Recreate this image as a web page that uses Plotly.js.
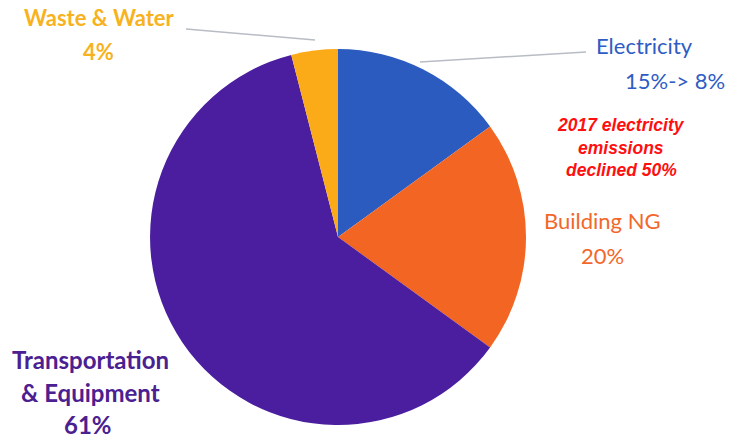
<!DOCTYPE html>
<html>
<head>
<meta charset="utf-8">
<script src="https://cdn.plot.ly/plotly-3.0.1.min.js"></script>
<style>html,body{margin:0;padding:0;background:#fff;}#chart{width:742px;height:439px;}</style>
</head>
<body>
<div id="chart"></div>
<script>
var categories = ["Electricity", "Building NG", "Transportation & Equipment", "Waste & Water"];
var shares = [15, 20, 61, 4];
var sliceColors = ["#2b5bbf", "#f26522", "#4a1e9e", "#fbab18"];
var labelTexts = ["Electricity", "15%-> 8%", "Building NG", "20%", "Transportation", "& Equipment", "61%", "Waste & Water", "4%"];
var noteLines = ["2017 electricity", "emissions", "declined 50%"];

var trace = {
  type: "pie",
  labels: categories,
  values: shares,
  marker: {colors: sliceColors, line: {width: 0}},
  sort: false,
  direction: "clockwise",
  rotation: 0,
  textinfo: "none",
  hoverinfo: "label+percent",
  showlegend: false,
  domain: {x: [0.2022, 0.7089], y: [0.0319, 0.8884]}
};

function px(x){return x/742;}
function py(y){return 1 - y/439;}
function ann(text, x, y, color, size, weight, family, style){
  return {text: text, x: px(x), y: py(y), xref: "paper", yref: "paper", showarrow: false,
    xanchor: "center", yanchor: "middle",
    font: {family: family || "Lato, 'Open Sans', sans-serif", size: size, color: color, weight: weight || "normal", style: style || "normal"}};
}
var blue = "#2e5cc4", orange = "#f2672a", purple = "#4b2090", yellow = "#f7b21e", red = "#ff1010";
var arial = "'Liberation Sans', Arial, sans-serif";
var annotations = [
  ann(labelTexts[0], 644, 45, blue, 22),
  ann(labelTexts[1], 675, 80, blue, 22),
  ann(labelTexts[2], 602, 220, orange, 22),
  ann(labelTexts[3], 602, 255, orange, 22),
  ann(labelTexts[4], 90, 359, purple, 24, "bold"),
  ann(labelTexts[5], 90, 392, purple, 24, "bold"),
  ann(labelTexts[6], 88, 424, purple, 24, "bold"),
  ann(labelTexts[7], 99, 18, yellow, 22, "bold"),
  ann(labelTexts[8], 98, 51, yellow, 22, "bold"),
  ann(noteLines[0], 621, 125, red, 17.5, "bold", arial, "italic"),
  ann(noteLines[1], 621, 148, red, 17.5, "bold", arial, "italic"),
  ann(noteLines[2], 621, 170, red, 17.5, "bold", arial, "italic")
];

var shapes = [
  {type: "line", xref: "paper", yref: "paper", x0: px(186), y0: py(29), x1: px(315), y1: py(40), line: {color: "#b8bcc4", width: 1.5}},
  {type: "line", xref: "paper", yref: "paper", x0: px(420), y0: py(62), x1: px(586), y1: py(52), line: {color: "#b8bcc4", width: 1.5}}
];

var layout = {
  width: 742, height: 439,
  margin: {l: 0, r: 0, t: 0, b: 0},
  paper_bgcolor: "#ffffff",
  plot_bgcolor: "#ffffff",
  annotations: annotations,
  shapes: shapes,
  showlegend: false
};
Plotly.newPlot("chart", [trace], layout, {displayModeBar: false, staticPlot: true});
</script>
</body>
</html>
